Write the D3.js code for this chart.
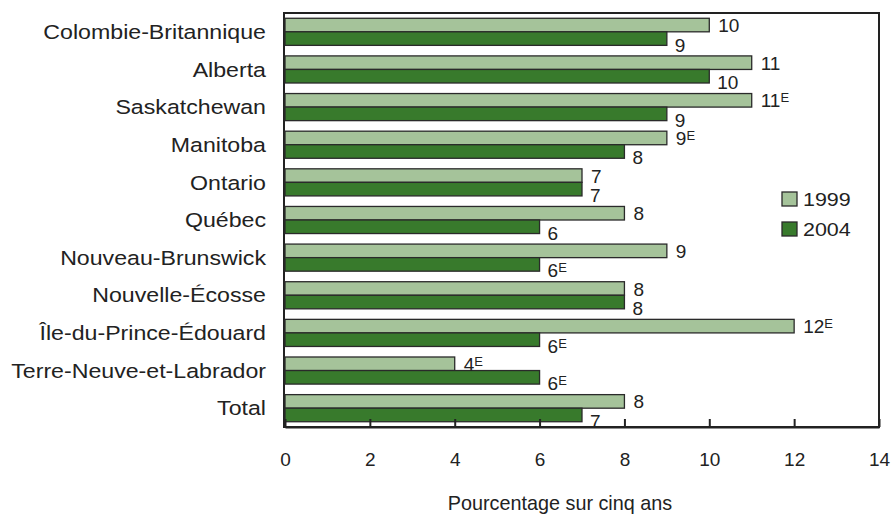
<!DOCTYPE html>
<html>
<head>
<meta charset="utf-8">
<script src="https://cdn.jsdelivr.net/npm/d3@7"></script>
<style>
  body { margin: 0; background: #fff; }
  text { font-family: "Liberation Sans", Arial, sans-serif; fill: #222; }
</style>
</head>
<body>
<div id="chart"></div>
<script>
// data
const provinces = ["Colombie-Britannique", "Alberta", "Saskatchewan", "Manitoba", "Ontario", "Québec",
  "Nouveau-Brunswick", "Nouvelle-Écosse", "Île-du-Prince-Édouard", "Terre-Neuve-et-Labrador", "Total"];
const values1999 = [10, 11, 11, 9, 7, 8, 9, 8, 12, 4, 8];
const values2004 = [9, 10, 9, 8, 7, 6, 6, 8, 6, 6, 7];
// "E" = use with caution
const flag1999 = ["", "", "E", "E", "", "", "", "", "E", "E", ""];
const flag2004 = ["", "", "", "", "", "", "E", "", "E", "E", ""];
const years = ["1999", "2004"];
const xTicks = [0, 2, 4, 6, 8, 10, 12, 14];

const W = 891, H = 515;
const plot = { left: 285, right: 879, top: 13, bottom: 427 };
const colors = { "1999": "#a5c39a", "2004": "#387a2c" };
const stretch = 1.13; // the original font is a bit wider than Liberation Sans

const svg = d3.select("#chart").append("svg")
    .attr("width", W)
    .attr("height", H);

const x = d3.scaleLinear().domain([0, 14]).range([plot.left, plot.right]);
const y = d3.scaleBand().domain(provinces).range([plot.top, plot.bottom])
    .paddingInner(0.28).paddingOuter(0.14);
const ySub = d3.scaleBand().domain(years).range([0, y.bandwidth()]);

const rows = provinces.map((p, i) => ({
    name: p,
    bars: [
        { year: "1999", value: values1999[i], flag: flag1999[i] },
        { year: "2004", value: values2004[i], flag: flag2004[i] }
    ]
}));

// frame
svg.append("rect")
    .attr("x", plot.left - 1)
    .attr("y", plot.top)
    .attr("width", plot.right - plot.left + 1)
    .attr("height", plot.bottom - plot.top)
    .attr("fill", "none")
    .attr("stroke", "#222")
    .attr("stroke-width", 2);

// bars
const groups = svg.selectAll(".grp")
    .data(rows)
    .join("g")
    .attr("class", "grp")
    .attr("transform", d => `translate(0,${y(d.name)})`);

groups.selectAll("rect")
    .data(d => d.bars)
    .join("rect")
    .attr("x", x(0))
    .attr("y", d => ySub(d.year))
    .attr("width", d => x(d.value) - x(0))
    .attr("height", ySub.bandwidth())
    .attr("fill", d => colors[d.year])
    .attr("stroke", "#2a2a2a")
    .attr("stroke-width", 1.3);

// value labels
const lbl = groups.selectAll("text.val")
    .data(d => d.bars)
    .join("text")
    .attr("class", "val")
    .attr("x", d => x(d.value) + (d.year === "1999" ? 9 : 8))
    .attr("y", d => ySub(d.year) + ySub.bandwidth() / 2 + (d.year === "1999" ? 7 : 13))
    .attr("font-size", 19);
lbl.append("tspan").text(d => d.value);
lbl.append("tspan")
    .attr("font-size", 13)
    .attr("dy", -5)
    .text(d => d.flag);

// category labels
groups.append("text")
    .attr("transform", `translate(266,${y.bandwidth() / 2}) scale(${stretch},1)`)
    .attr("dy", "0.35em")
    .attr("text-anchor", "end")
    .attr("font-size", 20.5)
    .text(d => d.name);

// x axis
const xAxis = svg.append("g")
    .attr("transform", `translate(0,${plot.bottom})`)
    .call(d3.axisBottom(x).tickValues(xTicks).tickSizeInner(-8).tickSizeOuter(0).tickPadding(26));
xAxis.select(".domain").attr("stroke", "#222").attr("stroke-width", 2);
xAxis.selectAll(".tick line").attr("stroke", "#222").attr("stroke-width", 2);
xAxis.selectAll(".tick text")
    .attr("font-size", 19)
    .attr("font-family", "Liberation Sans, Arial, sans-serif")
    .attr("fill", "#222");

// axis title
svg.append("text")
    .attr("x", 560)
    .attr("y", 510)
    .attr("text-anchor", "middle")
    .attr("font-size", 19.8)
    .text("Pourcentage sur cinq ans");

// legend
const legend = svg.append("g").attr("transform", "translate(782,192)");
years.forEach((yr, i) => {
    const row = legend.append("g").attr("transform", `translate(0,${i * 30})`);
    row.append("rect")
        .attr("width", 15)
        .attr("height", 14)
        .attr("fill", colors[yr])
        .attr("stroke", "#2a2a2a")
        .attr("stroke-width", 1.3);
    row.append("text")
        .attr("transform", `translate(21,7) scale(${stretch},1)`)
        .attr("dy", "0.35em")
        .attr("font-size", 19)
        .text(yr);
});
</script>
</body>
</html>
